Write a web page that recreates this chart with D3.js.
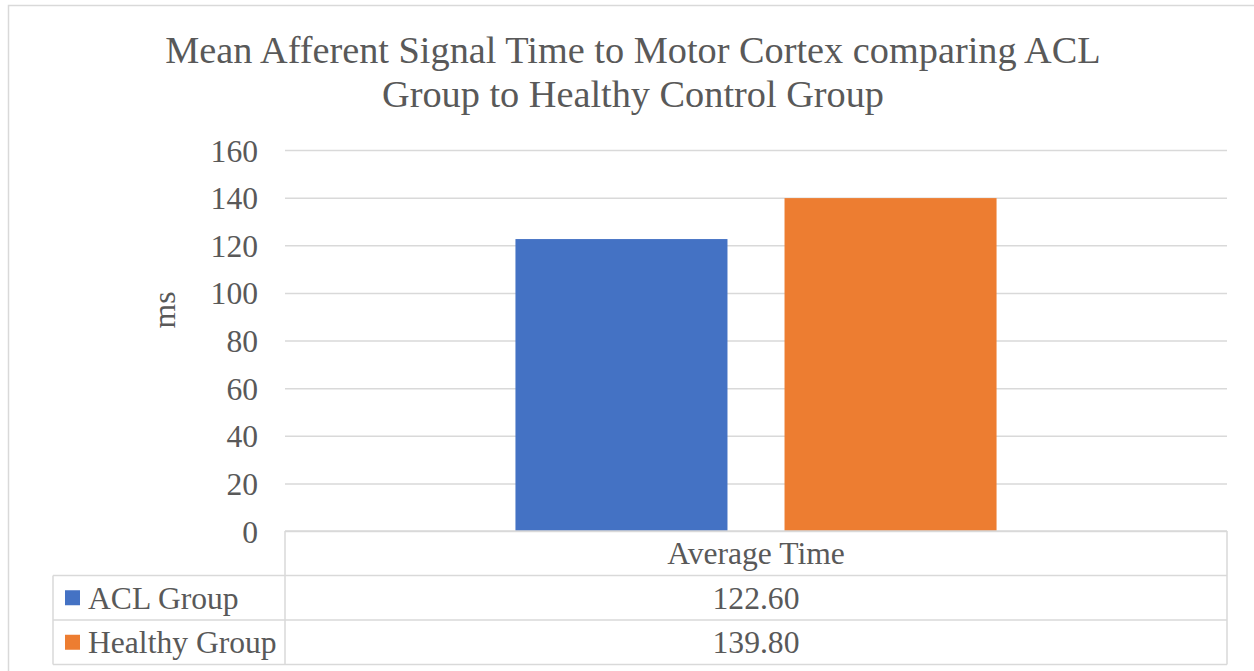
<!DOCTYPE html>
<html>
<head>
<meta charset="utf-8">
<script src="https://cdn.jsdelivr.net/npm/d3@7"></script>
<style>
  body { margin: 0; background: #fff; }
  svg text { font-family: "Liberation Serif", "Times New Roman", serif; fill: #595959; }
</style>
</head>
<body>
<svg id="chart" width="1254" height="671"></svg>
<script>
const categories = ["Average Time"];
const seriesNames = ["ACL Group", "Healthy Group"];
const aclValues = [122.60];
const healthyValues = [139.80];
const yTicks = [0, 20, 40, 60, 80, 100, 120, 140, 160];
const titleLines = ["Mean Afferent Signal Time to Motor Cortex comparing ACL", "Group to Healthy Control Group"];

const colors = ["#4472C4", "#ED7D31"];
const seriesValues = [aclValues, healthyValues];
const grid = "#d9d9d9";
const fs = 31.6;

const svg = d3.select("#chart");
const plotL = 285, plotR = 1227, plotT = 150, plotB = 531;
const rowH = 44.5;

// outer chart border
svg.append("rect")
    .attr("x", 8.5).attr("y", 5.5)
    .attr("width", 1252).attr("height", 672)
    .attr("fill", "#fff")
    .attr("stroke", grid).attr("stroke-width", 1.5);

// title
svg.append("g").selectAll("text")
    .data(titleLines)
    .enter().append("text")
    .attr("x", 633)
    .attr("y", (d, i) => 63 + i * 44)
    .attr("text-anchor", "middle")
    .attr("font-size", 38.3)
    .text(d => d);

const y = d3.scaleLinear().domain([0, 160]).range([plotB, plotT]);
const x0 = d3.scaleBand().domain(categories).range([plotL, plotR])
    .paddingInner(0).paddingOuter(0.479);
const x1 = d3.scaleBand().domain(seriesNames).range([0, x0.bandwidth()])
    .paddingInner(0.212).paddingOuter(0);

// gridlines + tick labels
const yAxis = svg.append("g")
    .attr("transform", "translate(" + plotL + ",0)")
    .call(d3.axisLeft(y).tickValues(yTicks).tickSize(-(plotR - plotL)).tickPadding(27));
yAxis.select(".domain").remove();
yAxis.selectAll("line").attr("stroke", grid).attr("stroke-width", 1.5);
yAxis.selectAll("text")
    .attr("font-size", fs)
    .attr("font-family", "Liberation Serif")
    .attr("fill", "#595959")
    .attr("dy", "0.35em");

// axis title
svg.append("text")
    .attr("transform", "translate(175,310) rotate(-90)")
    .attr("text-anchor", "middle")
    .attr("font-size", fs)
    .text("ms");

// bars
const bars = [];
categories.forEach((c, ci) => {
    seriesNames.forEach((s, si) => {
        bars.push({ cat: c, series: s, value: seriesValues[si][ci], color: colors[si] });
    });
});
svg.append("g").selectAll("rect")
    .data(bars)
    .enter().append("rect")
    .attr("x", d => x0(d.cat) + x1(d.series))
    .attr("y", d => y(d.value))
    .attr("width", x1.bandwidth())
    .attr("height", d => y(0) - y(d.value))
    .attr("fill", d => d.color);

// data table
const table = svg.append("g")
    .attr("stroke", grid).attr("stroke-width", 1.5).attr("fill", "none");
table.append("line").attr("x1", plotL).attr("x2", plotR).attr("y1", plotB).attr("y2", plotB);
table.append("line").attr("x1", plotL).attr("x2", plotL).attr("y1", plotB).attr("y2", plotB + rowH * 3);
table.append("line").attr("x1", plotR).attr("x2", plotR).attr("y1", plotB).attr("y2", plotB + rowH * 3);
table.append("line").attr("x1", 53).attr("x2", 53).attr("y1", plotB + rowH).attr("y2", plotB + rowH * 3);
[1, 2, 3].forEach(r => {
    table.append("line").attr("x1", 53).attr("x2", plotR)
        .attr("y1", plotB + rowH * r).attr("y2", plotB + rowH * r);
});

// header
svg.append("g").selectAll("text")
    .data(categories)
    .enter().append("text")
    .attr("x", d => x0(d) + x0.bandwidth() / 2)
    .attr("y", plotB + rowH / 2)
    .attr("dy", "0.35em")
    .attr("text-anchor", "middle")
    .attr("font-size", fs)
    .text(d => d);

// legend rows + values
seriesNames.forEach((s, si) => {
    const cy = plotB + rowH * (si + 1) + rowH / 2;
    svg.append("rect")
        .attr("x", 65).attr("y", cy - 7.5)
        .attr("width", 15).attr("height", 15)
        .attr("fill", colors[si]);
    svg.append("text")
        .attr("x", 88).attr("y", cy).attr("dy", "0.35em")
        .attr("font-size", fs)
        .text(s);
    categories.forEach((c, ci) => {
        svg.append("text")
            .attr("x", x0(c) + x0.bandwidth() / 2)
            .attr("y", cy).attr("dy", "0.35em")
            .attr("text-anchor", "middle")
            .attr("font-size", fs)
            .text(d3.format(".2f")(seriesValues[si][ci]));
    });
});
</script>
</body>
</html>
